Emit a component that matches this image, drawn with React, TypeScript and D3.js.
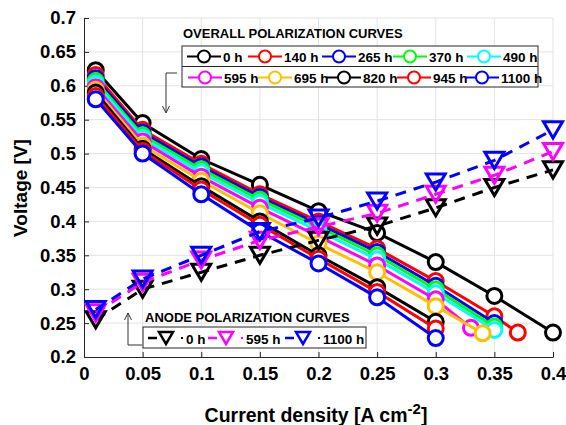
import React, { useEffect, useRef } from 'react';
import * as d3 from 'd3';

// overall polarization curves (hours of operation)
const hours = ['0 h', '140 h', '265 h', '370 h', '490 h', '595 h', '695 h', '820 h', '945 h', '1100 h'];
const colors = ['#000000', '#ff0000', '#0000ff', '#00ff00', '#00ffff', '#ff00ff', '#ffc000', '#000000', '#ff0000', '#0000ff'];

const x0h = [0.01, 0.05, 0.1, 0.15, 0.2, 0.25, 0.3, 0.35, 0.4];
const v0h = [0.623, 0.545, 0.492, 0.454, 0.415, 0.383, 0.34, 0.29, 0.236];
const x140 = [0.01, 0.05, 0.1, 0.15, 0.2, 0.25, 0.3, 0.35, 0.37];
const v140 = [0.616, 0.535, 0.485, 0.44, 0.4, 0.36, 0.312, 0.26, 0.236];
const x265 = [0.01, 0.05, 0.1, 0.15, 0.2, 0.25, 0.3, 0.35];
const v265 = [0.611, 0.531, 0.481, 0.436, 0.396, 0.355, 0.305, 0.25];
const x370 = [0.01, 0.05, 0.1, 0.15, 0.2, 0.25, 0.3, 0.35];
const v370 = [0.607, 0.527, 0.477, 0.432, 0.392, 0.35, 0.3, 0.245];
const x490 = [0.01, 0.05, 0.1, 0.15, 0.2, 0.25, 0.3, 0.35];
const v490 = [0.603, 0.523, 0.472, 0.427, 0.386, 0.344, 0.294, 0.24];
const x595 = [0.01, 0.05, 0.1, 0.15, 0.2, 0.25, 0.3, 0.33];
const v595 = [0.598, 0.518, 0.466, 0.42, 0.378, 0.335, 0.285, 0.243];
const x695 = [0.01, 0.05, 0.1, 0.15, 0.2, 0.25, 0.3, 0.34];
const v695 = [0.594, 0.512, 0.46, 0.412, 0.367, 0.325, 0.275, 0.235];
const x820 = [0.01, 0.05, 0.1, 0.15, 0.2, 0.25, 0.3];
const v820 = [0.59, 0.507, 0.452, 0.4, 0.35, 0.303, 0.252];
const x945 = [0.01, 0.05, 0.1, 0.15, 0.2, 0.25, 0.3];
const v945 = [0.585, 0.504, 0.447, 0.395, 0.345, 0.296, 0.242];
const x1100 = [0.01, 0.05, 0.1, 0.15, 0.2, 0.25, 0.3];
const v1100 = [0.58, 0.5, 0.44, 0.385, 0.338, 0.288, 0.228];

// anode polarization curves
const anodeHours = ['0 h', '595 h', '1100 h'];
const anodeColors = ['#000000', '#ff00ff', '#0000ff'];
const xAnode = [0.01, 0.05, 0.1, 0.15, 0.2, 0.25, 0.3, 0.35, 0.4];
const a0h = [0.255, 0.3, 0.325, 0.35, 0.372, 0.393, 0.42, 0.45, 0.476];
const a595 = [0.265, 0.31, 0.343, 0.372, 0.392, 0.412, 0.44, 0.468, 0.503];
const a1100 = [0.27, 0.315, 0.35, 0.385, 0.405, 0.43, 0.458, 0.49, 0.535];

const xTicks = [0, 0.05, 0.1, 0.15, 0.2, 0.25, 0.3, 0.35, 0.4];
const yTicks = [0.2, 0.25, 0.3, 0.35, 0.4, 0.45, 0.5, 0.55, 0.6, 0.65, 0.7];

const W = 566, H = 425;
const FONT = 'Arial, "Liberation Sans", sans-serif';

export default function App() {
    const ref = useRef<SVGSVGElement>(null);

    useEffect(() => {
        const svg = d3.select(ref.current);
        svg.selectAll('*').remove();

        const x = d3.scaleLinear().domain([0, 0.4]).range([84, 553]);
        const y = d3.scaleLinear().domain([0.2, 0.7]).range([357, 18]);

        // grid
        const grid = svg.append('g');
        grid.selectAll('line.gx').data(xTicks.slice(1)).enter().append('line')
            .attr('x1', d => x(d)).attr('x2', d => x(d))
            .attr('y1', y(0.2)).attr('y2', y(0.7))
            .attr('stroke', '#e3e3e3').attr('stroke-width', 1);
        grid.selectAll('line.gy').data(yTicks.slice(1)).enter().append('line')
            .attr('y1', d => y(d)).attr('y2', d => y(d))
            .attr('x1', x(0)).attr('x2', x(0.4))
            .attr('stroke', '#e3e3e3').attr('stroke-width', 1);

        // axes
        const xAxis = d3.axisBottom(x).tickValues(xTicks).tickSizeInner(-5).tickSizeOuter(0)
            .tickPadding(10).tickFormat(d => String(+d));
        const yAxis = d3.axisLeft(y).tickValues(yTicks).tickSizeInner(-5).tickSizeOuter(0)
            .tickPadding(8).tickFormat(d => String(+d));
        const gx = svg.append('g').attr('transform', `translate(0,${y(0.2)})`).call(xAxis);
        const gy = svg.append('g').attr('transform', `translate(${x(0)},0)`).call(yAxis);
        [gx, gy].forEach(g => {
            g.select('.domain').attr('stroke', '#262626').attr('stroke-width', 1);
            g.selectAll('.tick line').attr('stroke', '#262626');
            g.selectAll('.tick text').attr('font-family', FONT).attr('font-size', 18.5)
                .attr('font-weight', 'bold').attr('fill', '#000');
        });

        const line = d3.line<[number, number]>().x(d => x(d[0])).y(d => y(d[1]));

        const overall: [number[], number[]][] = [
            [x0h, v0h], [x140, v140], [x265, v265], [x370, v370], [x490, v490],
            [x595, v595], [x695, v695], [x820, v820], [x945, v945], [x1100, v1100],
        ];

        const plot = svg.append('g');
        overall.forEach(([xs, vs], i) => {
            const pts = xs.map((d, j) => [d, vs[j]] as [number, number]);
            plot.append('path').attr('d', line(pts)).attr('fill', 'none')
                .attr('stroke', colors[i]).attr('stroke-width', 3);
            plot.selectAll(null).data(pts).enter().append('circle')
                .attr('cx', d => x(d[0])).attr('cy', d => y(d[1])).attr('r', 7.5)
                .attr('fill', '#fff').attr('stroke', colors[i]).attr('stroke-width', 3);
        });

        const tri = (cx: number, cy: number, s: number) =>
            `M${cx - s},${cy - s * 0.85}L${cx + s},${cy - s * 0.85}L${cx},${cy + s * 0.85}Z`;

        const anode = [a0h, a595, a1100];
        anode.forEach((vs, i) => {
            const pts = xAnode.map((d, j) => [d, vs[j]] as [number, number]);
            plot.append('path').attr('d', line(pts)).attr('fill', 'none')
                .attr('stroke', anodeColors[i]).attr('stroke-width', 3)
                .attr('stroke-dasharray', '11,8');
            plot.selectAll(null).data(pts).enter().append('path')
                .attr('d', d => tri(x(d[0]), y(d[1]), 9.5))
                .attr('fill', 'none').attr('stroke', anodeColors[i]).attr('stroke-width', 3)
                .attr('stroke-linejoin', 'miter');
        });

        // overall legend
        svg.append('text').attr('x', 183).attr('y', 38).text('OVERALL POLARIZATION CURVES')
            .attr('font-family', FONT).attr('font-size', 13).attr('font-weight', 'bold');
        const lg = svg.append('g');
        lg.append('rect').attr('x', 182).attr('y', 46).attr('width', 356).attr('height', 41)
            .attr('fill', '#fff').attr('stroke', '#262626').attr('stroke-width', 1);
        lg.append('line').attr('x1', 182).attr('x2', 538).attr('y1', 66.5).attr('y2', 66.5)
            .attr('stroke', '#262626');
        const itemX = [[187, 248, 322, 393, 467], [188, 258, 327, 397, 465]];
        hours.forEach((h, i) => {
            const row = Math.floor(i / 5), col = i % 5;
            const lx = itemX[row][col];
            const cy = row === 0 ? 56.5 : 77.5;
            lg.append('line').attr('x1', lx).attr('x2', lx + 34).attr('y1', cy).attr('y2', cy)
                .attr('stroke', colors[i]).attr('stroke-width', 2);
            lg.append('circle').attr('cx', lx + 17).attr('cy', cy).attr('r', 6)
                .attr('fill', '#fff').attr('stroke', colors[i]).attr('stroke-width', 2);
            lg.append('text').attr('x', lx + 36).attr('y', cy + 5.5).text(h)
                .attr('font-family', FONT).attr('font-size', 13.5).attr('font-weight', 'bold');
        });

        // anode legend
        svg.append('text').attr('x', 145).attr('y', 322).text('ANODE POLARIZATION CURVES')
            .attr('font-family', FONT).attr('font-size', 13).attr('font-weight', 'bold');
        const al = svg.append('g');
        al.append('rect').attr('x', 143).attr('y', 327).attr('width', 223).attr('height', 21)
            .attr('fill', '#fff').attr('stroke', '#262626').attr('stroke-width', 1);
        const anodeItemX = [148, 208, 285];
        anodeHours.forEach((h, i) => {
            const lx = anodeItemX[i], cy = 338;
            al.append('line').attr('x1', lx).attr('x2', lx + 9).attr('y1', cy).attr('y2', cy)
                .attr('stroke', anodeColors[i]).attr('stroke-width', 2.5);
            al.append('path').attr('d', tri(lx + 18, cy, 7)).attr('fill', 'none')
                .attr('stroke', anodeColors[i]).attr('stroke-width', 2.5);
            al.append('line').attr('x1', lx + 33).attr('x2', lx + 35).attr('y1', cy).attr('y2', cy)
                .attr('stroke', anodeColors[i]).attr('stroke-width', 2);
            al.append('text').attr('x', lx + 38).attr('y', cy + 5.5).text(h)
                .attr('font-family', FONT).attr('font-size', 13.5).attr('font-weight', 'bold');
        });

        // arrows
        const arrows = svg.append('g').attr('stroke', '#333').attr('fill', 'none').attr('stroke-width', 1);
        arrows.append('path').attr('d', 'M177,73H166V112');
        arrows.append('path').attr('d', 'M162.5,106L166,113L169.5,106');
        arrows.append('path').attr('d', 'M142,345H128V313');
        arrows.append('path').attr('d', 'M124.5,320L128,313L131.5,320');

        // axis titles
        const xt = svg.append('text').attr('x', 316).attr('y', 422).attr('text-anchor', 'middle')
            .attr('font-family', FONT).attr('font-size', 19.5).attr('font-weight', 'bold');
        xt.append('tspan').text('Current density [A cm');
        xt.append('tspan').attr('dy', -8).attr('font-size', 15).text('-2');
        xt.append('tspan').attr('dy', 8).text(']');

        svg.append('text').attr('transform', 'translate(27,188) rotate(-90)')
            .attr('text-anchor', 'middle').attr('font-family', FONT).attr('font-size', 19)
            .attr('font-weight', 'bold').text('Voltage [V]');
    }, []);

    return (
        <svg ref={ref} width={W} height={H}
            style={{ position: 'absolute', left: 0, top: 0, background: '#fff' }} />
    );
}
